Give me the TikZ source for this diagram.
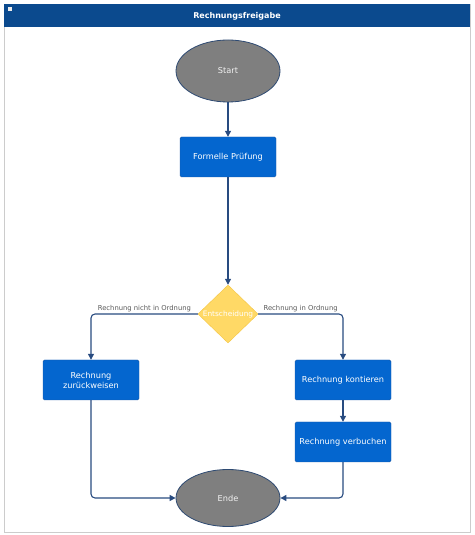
\documentclass[tikz,border=0pt]{standalone}
\usepackage{fontspec}
\setmainfont{DejaVu Sans}
\usetikzlibrary{shapes.geometric,arrows.meta}

\definecolor{titleblue}{HTML}{0B4A8E}
\definecolor{boxblue}{HTML}{0466CF}
\definecolor{boxedge}{HTML}{1D5AA6}
\definecolor{termgray}{HTML}{7F7F7F}
\definecolor{termedge}{HTML}{2E4A72}
\definecolor{decyellow}{HTML}{FFD966}
\definecolor{decedge}{HTML}{F4C542}
\definecolor{flowline}{HTML}{284B80}
\definecolor{labelgray}{HTML}{595959}

\begin{document}
\begin{tikzpicture}[x=1pt,y=1pt,
        procbox/.style={rectangle, rounded corners=1.5pt, fill=boxblue, draw=boxedge,
            text=white, minimum width=96pt, minimum height=40pt, align=center,
            font=\fontsize{8.2}{10}\selectfont},
        terminal/.style={ellipse, fill=termgray, draw=termedge, line width=0.8pt,
            text=white!90!gray, minimum width=104pt, inner sep=0pt,
            font=\fontsize{8.2}{10}\selectfont},
        decision/.style={diamond, fill=decyellow, draw=decedge, minimum width=60pt,
            minimum height=58pt, inner sep=0pt},
        flow/.style={draw=flowline, line width=1.1pt, rounded corners=4pt,
            -{Triangle[length=6pt,width=6pt]}},
        branchlabel/.style={text=labelgray, font=\fontsize{6.8}{8}\selectfont, inner sep=2pt}]
        \useasboundingbox (0,0) rectangle (474,535);

        % Draw the frame and the title bar
        \draw[gray!40, line width=0.6pt] (4,3) rectangle (470,531);
        \fill[titleblue] (4,508) rectangle (470,531);
        \fill[white!85!gray] (7.5,524) rectangle (11.5,528);
        \node[text=white, font=\bfseries\fontsize{8}{10}\selectfont] (title) at (237,519) {Rechnungsfreigabe};

        % Nodes of the flow
        \node[terminal, minimum height=62pt] (start) at (228,464) {Start};
        \node[procbox] (pruefung) at (228,378) {Formelle Prüfung};
        \node[decision, label={[text=white, font=\fontsize{7.4}{9}\selectfont]center:Entscheidung}] (entscheidung) at (228,221) {};
        \node[procbox] (zurueck) at (91,155) {Rechnung\\zurückweisen};
        \node[procbox] (kontieren) at (343,155) {Rechnung kontieren};
        \node[procbox] (verbuchen) at (343,93) {Rechnung verbuchen};
        \node[terminal, minimum height=57pt] (ende) at (228,37) {Ende};

        % Connectors
        \draw[flow] (start) -- (pruefung);
        \draw[flow] (pruefung) -- (entscheidung);
        \draw[flow] (entscheidung.west) -| node[branchlabel, pos=0.25, above] {Rechnung nicht in Ordnung} (zurueck.north);
        \draw[flow] (entscheidung.east) -| node[branchlabel, pos=0.25, above] {Rechnung in Ordnung} (kontieren.north);
        \draw[flow] (kontieren) -- (verbuchen);
        \draw[flow] (zurueck.south) |- (ende.west);
        \draw[flow] (verbuchen.south) |- (ende.east);

    \end{tikzpicture}
\end{document}
